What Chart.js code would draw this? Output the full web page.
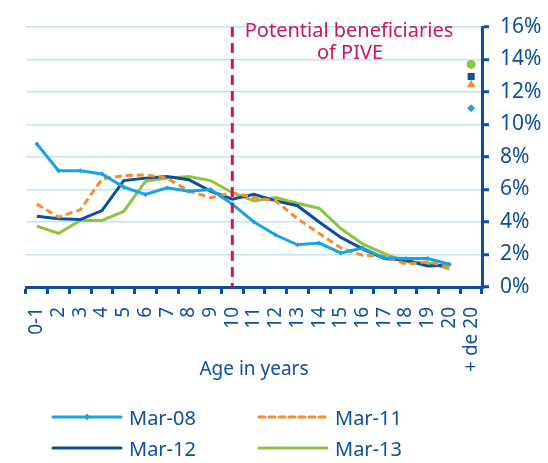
<!DOCTYPE html>
<html>
<head>
<meta charset="utf-8">
<script src="https://cdn.jsdelivr.net/npm/chart.js@4/dist/chart.umd.min.js"></script>
<style>
    html, body { margin: 0; padding: 0; background: #fff; }
    #wrap { position: relative; width: 548px; height: 463px; font-family: "Noto Sans", sans-serif; }
    #chart { position: absolute; left: 0; top: 0; }
    .leg { position: absolute; height: 30px; display: flex; align-items: center; color: #0d4fa0; font-size: 20px; }
    .leg svg { margin-right: 6px; }
</style>
</head>
<body>
<div id="wrap">
    <canvas id="chart" width="548" height="463"></canvas>
    <div class="leg" style="left:51px; top:402px;">
        <svg width="72" height="12"><line x1="2" y1="6" x2="70" y2="6" stroke="#1aa3e0" stroke-width="3" stroke-linecap="round"/><path d="M36 2.5 L39 6 L36 9.5 L33 6 Z" fill="#1aa3e0"/></svg>Mar-08
    </div>
    <div class="leg" style="left:257px; top:402px;">
        <svg width="72" height="12"><line x1="2" y1="6" x2="70" y2="6" stroke="#f68d2e" stroke-width="3" stroke-dasharray="6,4" stroke-linecap="round"/></svg>Mar-11
    </div>
    <div class="leg" style="left:51px; top:433px;">
        <svg width="72" height="12"><line x1="2" y1="6" x2="70" y2="6" stroke="#0b4ea2" stroke-width="3" stroke-linecap="round"/></svg>Mar-12
    </div>
    <div class="leg" style="left:257px; top:433px;">
        <svg width="72" height="12"><line x1="2" y1="6" x2="70" y2="6" stroke="#8cc63f" stroke-width="3" stroke-linecap="round"/></svg>Mar-13
    </div>
</div>
<script>
// Kategorien (Alter)
const ages = ['0-1', '2', '3', '4', '5', '6', '7', '8', '9', '10', '11', '12', '13', '14', '15', '16', '17', '18', '19', '20', '+ de 20'];

// Anteile in Prozent
const mar08 = [8.8, 7.15, 7.15, 6.95, 6.15, 5.7, 6.1, 5.9, 6.0, 5.1, 4.0, 3.2, 2.6, 2.7, 2.1, 2.4, 1.8, 1.75, 1.75, 1.4, 11.0];
const mar11 = [5.1, 4.3, 4.75, 6.65, 6.85, 6.9, 6.7, 5.9, 5.5, 5.8, 5.5, 5.3, 4.2, 3.3, 2.4, 1.95, 1.9, 1.4, 1.55, 1.25, 12.45];
const mar12 = [4.35, 4.2, 4.15, 4.7, 6.55, 6.7, 6.8, 6.6, 5.9, 5.4, 5.7, 5.3, 5.0, 4.0, 3.05, 2.35, 1.75, 1.65, 1.3, 1.35, 12.95];
const mar13 = [3.75, 3.3, 4.1, 4.1, 4.65, 6.5, 6.7, 6.8, 6.55, 5.8, 5.3, 5.5, 5.15, 4.85, 3.6, 2.65, 2.05, 1.55, 1.5, 1.1, 13.7];

const yTicks = [0, 2, 4, 6, 8, 10, 12, 14, 16];
const pivePos = '10';
const piveText = ['Potential beneficiaries', 'of PIVE'];

const textBlue = '#0d4fa0';
const axisBlue = '#0b4ea2';
const crimson = '#c8175d';
const lastIdx = ages.length - 1;

// Letztes Segment ("+ de 20") ohne Linie
const hideLast = { borderColor: ctx => ctx.p1DataIndex === lastIdx ? 'rgba(0,0,0,0)' : undefined };

function makeSet(label, data, color, style, radius, lineRadius, dash) {
    return {
        label: label,
        data: data,
        borderColor: color,
        backgroundColor: color,
        borderWidth: 3,
        borderDash: dash || [],
        pointStyle: style,
        pointRadius: ctx => ctx.dataIndex === lastIdx ? radius : lineRadius,
        pointBorderWidth: 0,
        tension: 0,
        segment: hideLast
    };
}

// Senkrechte Linie + Beschriftung
const pivePlugin = {
    id: 'pive',
    afterDatasetsDraw(chart) {
        const { ctx, chartArea, scales } = chart;
        const x = scales.x.getPixelForValue(ages.indexOf(pivePos));
        ctx.save();
        ctx.strokeStyle = crimson;
        ctx.lineWidth = 3;
        ctx.setLineDash([10, 6]);
        ctx.beginPath();
        ctx.moveTo(x, chartArea.top);
        ctx.lineTo(x, chartArea.bottom);
        ctx.stroke();
        ctx.setLineDash([]);
        ctx.fillStyle = crimson;
        ctx.font = '20px "Noto Sans"';
        ctx.textAlign = 'center';
        ctx.textBaseline = 'middle';
        ctx.fillText(piveText[0], 349, 31);
        ctx.fillText(piveText[1], 350, 53);
        ctx.restore();
    }
};

new Chart(document.getElementById('chart'), {
    type: 'line',
    data: {
        labels: ages,
        datasets: [
            makeSet('Mar-08', mar08, '#1aa3e0', 'rectRot', 4, 2.5),
            makeSet('Mar-11', mar11, '#f68d2e', 'triangle', 5, 0, [7, 4]),
            makeSet('Mar-12', mar12, axisBlue, 'rect', 5, 0),
            makeSet('Mar-13', mar13, '#8cc63f', 'circle', 4.5, 0)
        ]
    },
    options: {
        responsive: false,
        animation: false,
        layout: { padding: { top: 27, right: 0, bottom: 79, left: 26 } },
        plugins: { legend: { display: false }, tooltip: { enabled: false } },
        scales: {
            x: {
                offset: true,
                afterFit: axis => { axis.height = 97; },
                grid: { offset: true, drawOnChartArea: false, color: axisBlue, lineWidth: 3, tickLength: 7 },
                border: { color: axisBlue, width: 3 },
                ticks: {
                    color: textBlue, font: { size: 19, family: 'Noto Sans' },
                    minRotation: 90, maxRotation: 90, autoSkip: false, padding: 13
                },
                title: { display: true, text: 'Age in years', color: textBlue, font: { size: 19, family: 'Noto Sans' }, padding: { top: 4, bottom: 3 } }
            },
            y: {
                position: 'right',
                min: 0,
                max: 16,
                afterFit: axis => { axis.width = 66; },
                afterBuildTicks: axis => { axis.ticks = yTicks.map(v => ({ value: v })); },
                grid: { color: '#bfe6f5', lineWidth: 1.5, tickColor: axisBlue, tickLength: 7, tickWidth: 3 },
                border: { color: axisBlue, width: 3 },
                ticks: {
                    color: textBlue, font: { size: 21, family: 'Noto Sans' }, padding: 11,
                    callback: v => v + '%'
                }
            }
        }
    },
    plugins: [pivePlugin]
});
</script>
</body>
</html>
